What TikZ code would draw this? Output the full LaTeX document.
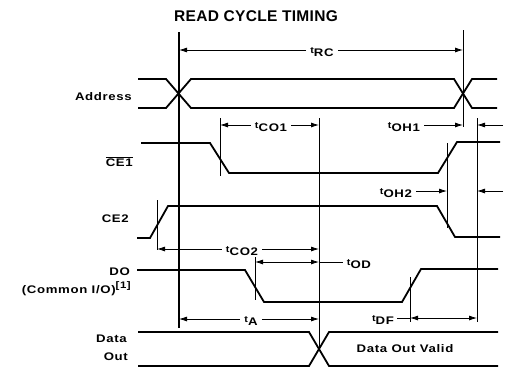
\documentclass[tikz,border=0pt]{standalone}
\usepackage{fontspec}
\setmainfont{Liberation Sans}
\newfontfamily\labfont[FakeStretch=1.2,LetterSpace=6]{Liberation Sans}
\newfontfamily\titlefont[LetterSpace=2]{Liberation Sans}
\usetikzlibrary{arrows.meta}
\newcommand\tl[1]{{\fontsize{9}{9}\selectfont t}\raisebox{-3.5pt}{#1}}
\tikzset{
  sig/.style={line width=1.8pt},
  refl/.style={line width=1pt},
  mainref/.style={line width=1.5pt},
  dim/.style={line width=0.8pt},
  dimar/.style={dim, -{Latex[length=8pt,width=5pt]}},
  dimboth/.style={dim, {Latex[length=8pt,width=5pt]}-{Latex[length=8pt,width=5pt]}},
  lab/.style={font=\labfont\bfseries\fontsize{11}{13}\selectfont, inner sep=0pt},
  dlab/.style={lab, text height=6.5pt, text depth=0pt},
  ttl/.style={font=\titlefont\bfseries\fontsize{15.5}{18}\selectfont, inner sep=0pt}
}
\begin{document}
\begin{tikzpicture}[x=1pt,y=-1pt]
\fill[white] (0,0) rectangle (510,372);
\useasboundingbox (0,0) rectangle (510,372);

% title
\node[ttl] (title) at (256,16) {READ CYCLE TIMING};

% signal names
\node[lab, anchor=base east] (addr) at (132,100) {Address};
\node[lab, anchor=base east] (ce1) at (133,166) {$\overline{\mbox{CE1}}$};
\node[lab, anchor=base east] (ce2) at (129,222) {CE2};
\node[lab, anchor=base east] (do) at (130,275) {DO};
\node[lab, anchor=base east] (cio) at (131,293) {(Common I/O)\raisebox{5pt}{\fontsize{9.5}{10}\selectfont[1]}};
\node[lab, anchor=base east] (dout1) at (127,342) {Data};
\node[lab, anchor=base east] (dout2) at (128,360) {Out};
\node[lab] (dov) at (405,349) {Data Out Valid};

% reference coordinates
\coordinate (L0) at (179,32);
\coordinate (L1) at (463,30);
\coordinate (L2) at (220,118);
\coordinate (L3) at (319,118);
\coordinate (L4) at (477,118);
\coordinate (L5) at (447,143);
\coordinate (L6) at (157,200);
\coordinate (L7) at (255,257);
\coordinate (L8) at (410,277);

% reference lines
\draw[mainref] (L0) -- (179,328);
\draw[refl] (L1) -- (463,127);
\draw[refl] (L2) -- (220,176);
\draw[refl] (L3) -- (319,349);
\draw[refl] (L4) -- (477,322);
\draw[refl] (L5) -- (447,228);
\draw[refl] (L6) -- (157,250);
\draw[refl] (L7) -- (255,300);
\draw[refl] (L8) -- (410,322);

% waveforms
\draw[sig] (138,79) -- (166,79) -- (191,108) -- (454,108) -- (472,79) -- (497,79);
\draw[sig] (138,108) -- (166,108) -- (191,79) -- (454,79) -- (472,108) -- (497,108);
\draw[sig] (141,143) -- (210,143) -- (229,173) -- (438,173) -- (457,142) -- (500,142);
\draw[sig] (137,238) -- (150,238) -- (168,206) -- (437,206) -- (455,237) -- (500,237);
\draw[sig] (137,270) -- (245,270) -- (264,302) -- (402,302) -- (421,269) -- (498,269);
\draw[sig] (138,332) -- (309,332) -- (329,366) -- (498,366);
\draw[sig] (138,366) -- (309,366) -- (329,332) -- (498,332);

% tRC
\node[dlab] (tRC) at (322,50) {\tl{RC}};
\draw[dimar] ([xshift=-4pt]tRC.west) -- (tRC -| L0);
\draw[dimar] ([xshift=4pt]tRC.east) -- (tRC -| L1);

% tCO1
\node[dlab] (tCO1) at (271,125) {\tl{CO1}};
\draw[dimar] ([xshift=-4pt]tCO1.west) -- (tCO1 -| L2);
\draw[dimar] ([xshift=4pt]tCO1.east) -- (tCO1 -| L3);

% tOH1
\node[dlab] (tOH1) at (404,125) {\tl{OH1}};
\coordinate (oh1r) at (503,125);
\draw[dimar] ([xshift=4pt]tOH1.east) -- (tOH1 -| L1);
\draw[dimar] (oh1r) -- (tOH1 -| L4);

% tOH2
\node[dlab] (tOH2) at (396,191) {\tl{OH2}};
\coordinate (oh2r) at (503,191);
\draw[dimar] ([xshift=4pt]tOH2.east) -- (tOH2 -| L5);
\draw[dimar] (oh2r) -- (tOH2 -| L4);

% tCO2
\node[dlab] (tCO2) at (242,249) {\tl{CO2}};
\draw[dimar] ([xshift=-4pt]tCO2.west) -- (tCO2 -| L6);
\draw[dimar] ([xshift=4pt]tCO2.east) -- (tCO2 -| L3);

% tOD
\node[dlab] (tOD) at (359,262) {\tl{OD}};
\draw[dimboth] (tOD -| L7) -- (tOD -| L3);
\draw[dim] (tOD -| L3) -- ([xshift=-4pt]tOD.west);

% tA
\node[dlab] (tA) at (251,319) {\tl{A}};
\draw[dimar] ([xshift=-4pt]tA.west) -- (tA -| L0);
\draw[dimar] ([xshift=4pt]tA.east) -- (tA -| L3);

% tDF
\node[dlab] (tDF) at (383,318) {\tl{DF}};
\draw[dim] ([xshift=3pt]tDF.east) -- (tDF -| L8);
\draw[dimboth] (tDF -| L8) -- (tDF -| L4);
\end{tikzpicture}
\end{document}
